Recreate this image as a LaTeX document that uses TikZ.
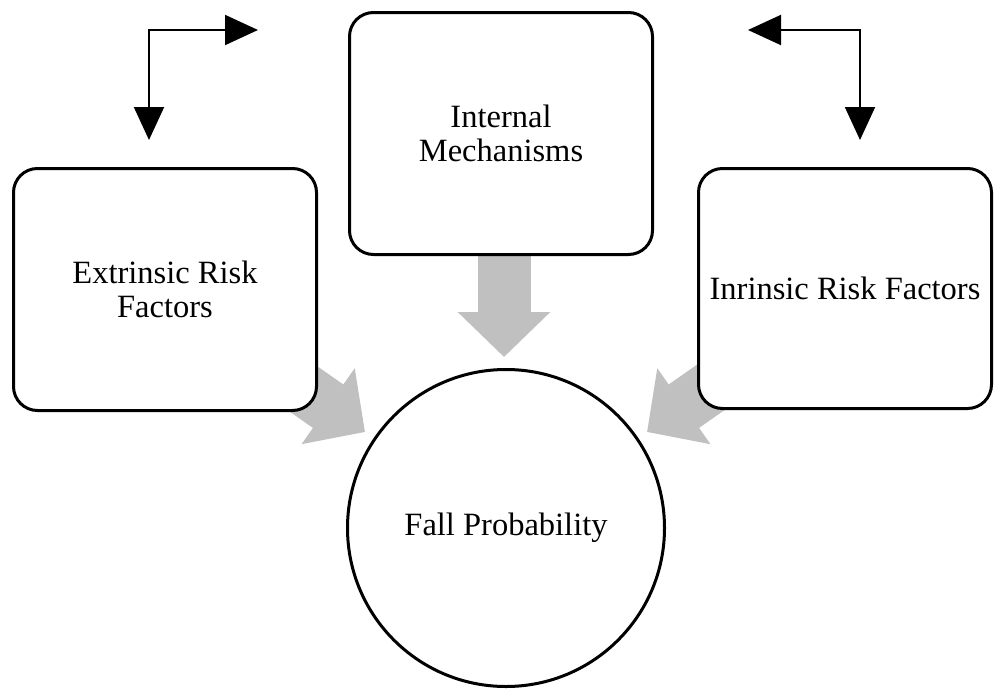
\documentclass[tikz,border=0pt]{standalone}
\usepackage{fontspec}
\setmainfont{Liberation Serif}
\usetikzlibrary{arrows.meta}
\definecolor{arrowgray}{RGB}{192,192,192}
\tikzset{
  box/.style={draw=black, line width=3pt, fill=white, rounded corners=24pt,
    align=center, font=\fontsize{32.5pt}{34pt}\selectfont, inner sep=0pt},
  roundnode/.style={draw=black, line width=3pt, fill=white, circle,
    minimum size=317pt, align=center, font=\fontsize{32.5pt}{34pt}\selectfont, inner sep=0pt},
  fat/.style={draw=arrowgray, line width=53pt, line cap=butt,
    -{Triangle[length=45pt,width=90pt]}},
  blk/.style={draw=black, line width=2pt,
    {Triangle[length=33pt,width=30pt]}-{Triangle[length=33pt,width=30pt]}}
}
\begin{document}
\begin{tikzpicture}[x=1pt,y=1pt]
\useasboundingbox (0,0) rectangle (995,-688);
% gray fat arrows (drawn first, under the boxes)
\coordinate (cs) at (504,-245);
\coordinate (ct) at (504,-357);
\coordinate (ls) at (275,-369);
\coordinate (lt) at (365,-432);
\coordinate (rs) at (737,-369);
\coordinate (rt) at (647,-432);
\draw[fat] (cs) -- (ct);
\draw[fat] (ls) -- (lt);
\draw[fat] (rs) -- (rt);
% boxes
\node[box, minimum width=303pt, minimum height=242pt] (int) at (501,-133.5) {Internal\\Mechanisms};
\node[box, minimum width=303pt, minimum height=242pt] (ext) at (165,-289.5) {Extrinsic Risk\\Factors};
\node[box, minimum width=293pt, minimum height=240pt] (intr) at (845,-288.5) {Inrinsic Risk Factors};
\node[roundnode] (fall) at (506,-528) {Fall Probability};
% black elbow arrows
\coordinate (la) at (149,-140);
\coordinate (lb) at (258,-30);
\coordinate (ra) at (748,-30);
\coordinate (rb) at (860,-140);
\draw[blk] (la) |- (lb);
\draw[blk] (ra) -| (rb);
\end{tikzpicture}
\end{document}
